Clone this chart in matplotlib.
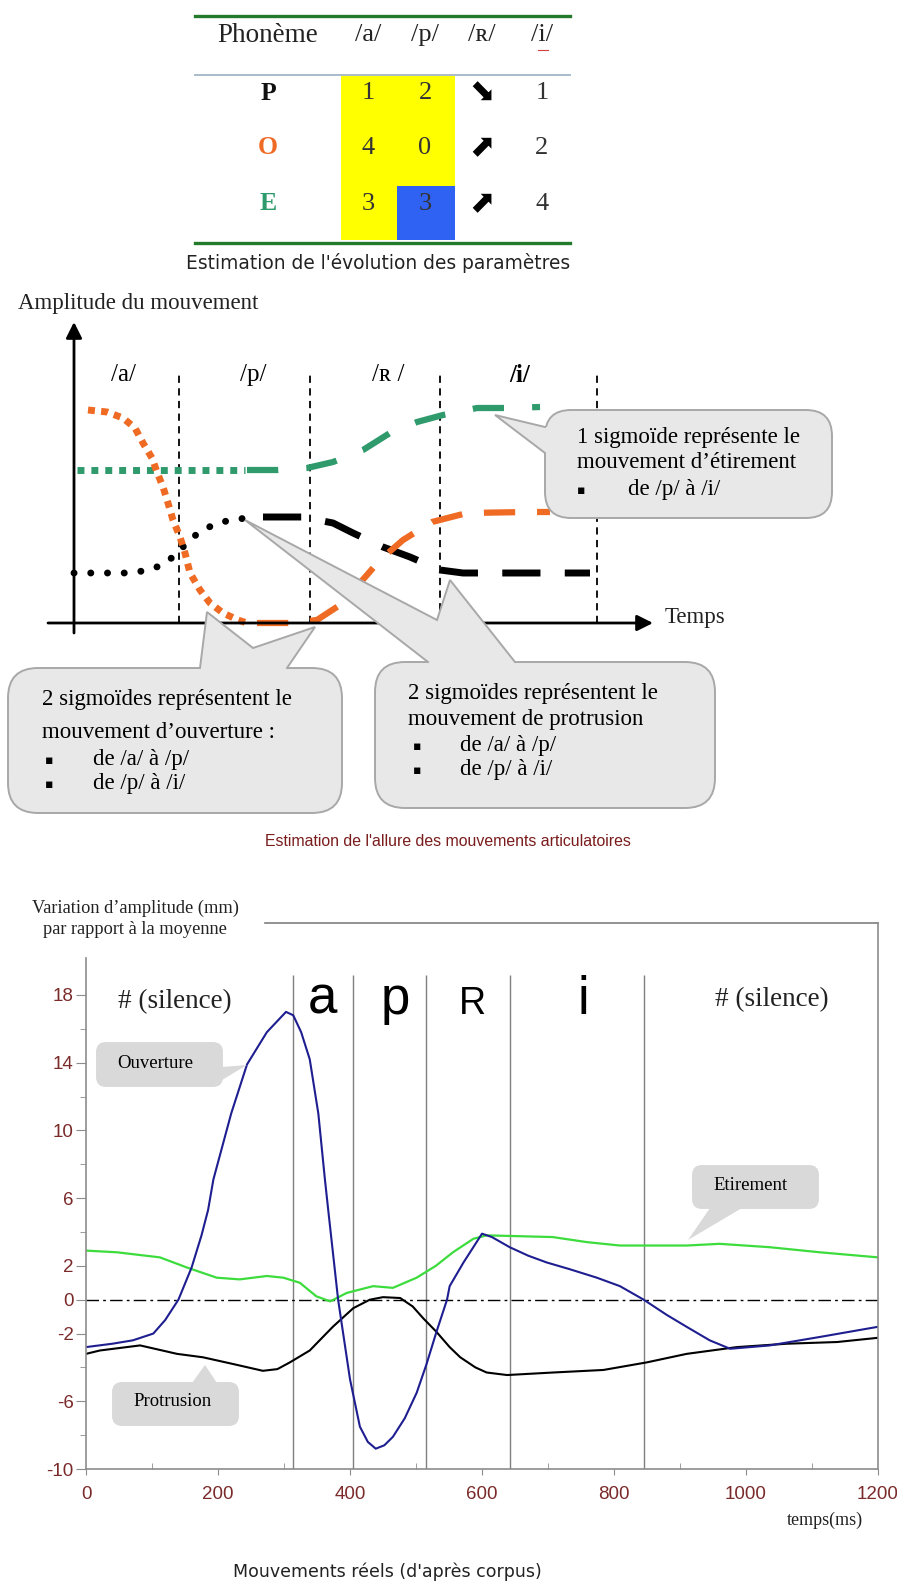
import matplotlib
matplotlib.use("Agg")
import matplotlib.pyplot as plt
from matplotlib.patches import FancyBboxPatch, Polygon, Rectangle

W, H = 897, 1589
SERIF = ["Liberation Serif", "DejaVu Serif"]
SANS = ["Liberation Sans", "DejaVu Sans"]
DEJAVU = ["DejaVu Sans"]
plt.rcParams["font.family"] = SANS
plt.rcParams["axes.unicode_minus"] = False

ORANGE = "#ef6a22"
TEAL = "#2f9a6c"
MAROON = "#7b2a2a"

# --- table: estimation de l'évolution des paramètres
table_phonemes = ["/a/", "/p/", "/ʀ/", "/i/"]
table_params = ["P", "O", "E"]
table_param_colors = ["#111111", ORANGE, TEAL]
table_cells = [["1", "2", "⬊", "1"],
               ["4", "0", "⬈", "2"],
               ["3", "3", "⬈", "4"]]

# --- schematic (time units / amplitude units)
sch_phonemes = ["/a/", "/p/", "/ʀ /", "/i/"]
sch_label_t = [4.9, 17.9, 31.4, 44.6]
sch_bounds = [10.5, 23.6, 36.6, 52.3]
ouv_dot_t = [1.4, 3.3, 4.9, 6.1, 6.9, 7.8, 8.3, 8.9, 9.4, 9.9, 10.6, 11.1, 11.6, 12.6, 13.6, 14.9, 16.4, 17.3]
ouv_dot_a = [21.3, 21.1, 20.5, 19.5, 18.0, 16.5, 15.1, 13.6, 12.0, 10.3, 8.6, 7.0, 5.0, 3.3, 2.0, 1.0, 0.3, 0.0]
ouv_dash_t = [18.3, 21.6, 24.3, 26.9, 28.6, 30.6, 32.9, 35.8, 39.3, 45.3, 47.6]
ouv_dash_a = [0.0, 0.0, 0.3, 2.0, 4.0, 6.3, 8.3, 10.1, 11.0, 11.1, 11.1]
eti_dot_t = [0.3, 17.1]
eti_dot_a = [15.3, 15.3]
eti_dash_t = [17.3, 20.4, 23.3, 25.9, 28.9, 31.6, 34.3, 36.9, 40.3, 43.4, 46.6]
eti_dash_a = [15.3, 15.3, 15.5, 16.1, 17.3, 19.0, 20.1, 20.8, 21.5, 21.5, 21.6]
pro_dot_t = [0.0, 5.3, 6.9, 8.6, 9.9, 11.1, 12.4, 13.9, 15.6, 17.3]
pro_dot_a = [5.0, 5.0, 5.2, 5.7, 6.6, 7.8, 9.0, 9.8, 10.3, 10.5]
pro_dash_t = [18.9, 22.8, 25.9, 27.9, 30.9, 33.6, 36.6, 38.9, 51.6]
pro_dash_a = [10.6, 10.6, 10.0, 9.0, 7.6, 6.6, 5.3, 5.0, 5.0]

# --- real movements (ms / mm)
seg_bounds = [314, 405, 515, 642, 845]
seg_labels = ["a", "p", "R", "i"]
seg_label_t = [358, 468, 586, 753]
t_ouv = [0, 40, 71, 102, 120, 140, 160, 175, 185, 193, 220, 244, 274, 303, 314, 326, 339, 352, 362, 367,
         382, 400, 415, 427, 439, 452, 465, 483, 501, 516, 531, 547, 551, 572, 600, 615, 642, 670, 698,
         733, 774, 809, 845, 880, 910, 945, 976, 1036, 1112, 1200]
v_ouv = [-2.8, -2.6, -2.4, -2.0, -1.2, 0.0, 1.9, 3.8, 5.3, 7.1, 11.0, 13.9, 15.8, 17.0, 16.8, 15.8, 14.2, 11.0,
         7.1, 5.3, 0.0, -4.7, -7.5, -8.4, -8.8, -8.6, -8.1, -7.0, -5.5, -3.8, -1.9, 0.0, 0.8, 2.2, 3.9, 3.7,
         3.1, 2.6, 2.2, 1.8, 1.3, 0.8, 0.0, -0.9, -1.6, -2.4, -2.9, -2.7, -2.2, -1.6]
t_eti = [0, 47, 112, 153, 198, 233, 274, 299, 324, 349, 370, 395, 435, 465, 501, 530, 556, 587, 607, 707,
         759, 809, 910, 960, 1036, 1112, 1200]
v_eti = [2.9, 2.8, 2.5, 1.9, 1.3, 1.2, 1.4, 1.3, 1.0, 0.2, -0.1, 0.4, 0.8, 0.7, 1.3, 2.0, 2.8, 3.6, 3.8, 3.7,
         3.4, 3.2, 3.2, 3.3, 3.1, 2.8, 2.5]
t_pro = [0, 21, 82, 138, 177, 223, 268, 290, 309, 339, 374, 405, 430, 450, 476, 495, 511, 531, 551, 567,
         590, 607, 638, 708, 784, 850, 910, 986, 1062, 1138, 1200]
v_pro = [-3.2, -3.0, -2.7, -3.2, -3.4, -3.8, -4.2, -4.1, -3.7, -3.0, -1.6, -0.5, 0.0, 0.15, 0.1, -0.4, -1.1,
         -1.9, -2.8, -3.4, -4.0, -4.3, -4.45, -4.3, -4.15, -3.7, -3.2, -2.8, -2.6, -2.5, -2.25]
y_major = [-10, -6, -2, 0, 2, 6, 10, 14, 18]
y_minor = [-8, -4, 4, 8, 12, 16]

fig = plt.figure(figsize=(W / 100, H / 100), dpi=100)


def px_axes(x0, y0, x1, y1):
    return fig.add_axes([x0 / W, 1 - y1 / H, (x1 - x0) / W, (y1 - y0) / H])


def callout(ax, box, verts, inward, radius, face, edge=None, lw=1.4):
    x0, y0, x1, y1 = box
    ax.add_patch(FancyBboxPatch((x0, y0), x1 - x0, y1 - y0,
                                boxstyle=f"round,pad=0,rounding_size={radius}",
                                fc=face, ec=edge or face, lw=lw, zorder=5))
    dx, dy = inward
    first, last = verts[0], verts[-1]
    fill = [(first[0] + dx, first[1] + dy)] + list(verts) + [(last[0] + dx, last[1] + dy)]
    ax.add_patch(Polygon(fill, closed=True, fc=face, ec="none", zorder=6))
    if edge:
        xs, ys = zip(*verts)
        ax.plot(xs, ys, color=edge, lw=lw, zorder=7, solid_joinstyle="miter")


# ---------------- schematic ----------------
sch = px_axes(20, 300, 680, 650)
sch.set_xlim(-5.4, 60.6)
sch.set_ylim(-2.7, 32.3)
sch.axis("off")
arrow = dict(arrowstyle="-|>", lw=2, color="black", mutation_scale=24, shrinkA=0, shrinkB=0)
sch.annotate("", xy=(0, 30.1), xytext=(0, -1.0), arrowprops=arrow)
sch.annotate("", xy=(57.9, 0), xytext=(-2.6, 0), arrowprops=arrow)
sch.vlines(sch_bounds, 0, 25.1, colors="black", linestyles=(0, (4, 3)), lw=1.3)
for name, t in zip(sch_phonemes, sch_label_t):
    sch.text(t, 24.8, name, family=SERIF, fontsize=18, ha="center", va="center",
             fontweight="bold" if name == "/i/" else "normal")

sch.plot(eti_dot_t, eti_dot_a, color=TEAL, lw=5, linestyle=(0, (1, 1)), dash_capstyle="butt")
sch.plot(eti_dash_t, eti_dash_a, color=TEAL, lw=4.5, linestyle=(0, (5, 4.5)), dash_capstyle="butt")
sch.plot(pro_dot_t, pro_dot_a, color="black", lw=5, linestyle=(0, (0.01, 2.4)), dash_capstyle="round")
sch.plot(pro_dash_t, pro_dash_a, color="black", lw=5, linestyle=(0, (5.5, 3.5)), dash_capstyle="butt")
sch.plot(ouv_dot_t, ouv_dot_a, color=ORANGE, lw=5, linestyle=(0, (1, 0.9)), dash_capstyle="butt")
sch.plot(ouv_dash_t, ouv_dash_a, color=ORANGE, lw=4.5, linestyle=(0, (5, 3.5)), dash_capstyle="butt")

# ---------------- real movements ----------------
ax = px_axes(86, 923, 878, 1469)
ax.set_xlim(0, 1200)
ax.set_ylim(-10, 22.25)
ax.vlines(seg_bounds, -10, 19.2, colors="#7f7f7f", lw=1.0)
ax.plot([0, 1200], [0, 0], color="black", lw=1.0, linestyle=(0, (9, 3, 2, 3)))
ax.plot(t_eti, v_eti, color="#3ddc3d", lw=1.6)
ax.plot(t_pro, v_pro, color="black", lw=1.5)
ax.plot(t_ouv, v_ouv, color="#1e1e90", lw=1.5)
ax.plot([271, 1200], [22.25, 22.25], color="#7f7f7f", lw=1.2, clip_on=False)
for side in ("left", "right", "bottom"):
    ax.spines[side].set_color("#8c8c8c")
    ax.spines[side].set_linewidth(1.2)
ax.spines["top"].set_visible(False)
ax.spines["left"].set_bounds(-10, 20.2)
ax.set_xticks(range(0, 1201, 200))
ax.set_xticks(range(100, 1200, 200), minor=True)
ax.set_yticks(y_major)
ax.set_yticks(y_minor, minor=True)
ax.tick_params(axis="both", which="both", color="#8c8c8c", labelcolor=MAROON, labelsize=13.5)
ax.tick_params(axis="y", which="major", length=7, pad=2)
ax.tick_params(axis="y", which="minor", length=4.5)
ax.tick_params(axis="x", which="major", length=4, pad=8)
ax.tick_params(axis="x", which="minor", length=4, direction="in")
for lab, t in zip(seg_labels, seg_label_t):
    ax.text(t, 16.9, lab, fontsize=27 if lab == "R" else 38, ha="center", va="baseline", color="black")
ax.text(135, 17.6, "# (silence)", family=SERIF, fontsize=19.5, ha="center", va="center", color="#222222")
ax.text(1039, 17.7, "# (silence)", family=SERIF, fontsize=19.5, ha="center", va="center", color="#222222")

# ---------------- overlay (table, captions, callouts) ----------------
ov = fig.add_axes([0, 0, 1, 1])
ov.set_xlim(0, W)
ov.set_ylim(H, 0)
ov.axis("off")
ov.set_zorder(10)

# table
col_x = [368, 425, 482, 542]
row_y = [93, 148, 204]
ov.add_patch(Rectangle((341, 75), 114, 165, fc="#ffff00", ec="none", zorder=1))
ov.add_patch(Rectangle((397, 186), 58, 54, fc="#2f62f2", ec="none", zorder=2))
ov.plot([195, 570], [16, 16], color="#237a2b", lw=2.4)
ov.plot([195, 570], [75, 75], color="#a9bccb", lw=1.4)
ov.plot([195, 570], [243, 243], color="#237a2b", lw=2.4)
ov.text(268, 35, "Phonème", family=SERIF, fontsize=19.5, ha="center", va="center", color="#222222")
for name, x in zip(table_phonemes, col_x):
    ov.text(x, 35, name, family=SERIF, fontsize=19, ha="center", va="center", color="#222222")
ov.plot([538, 548], [50, 50], color="#d04040", lw=0.8)
for name, color, cells, y in zip(table_params, table_param_colors, table_cells, row_y):
    ov.text(268, y, name, family=SERIF, fontsize=18.5, fontweight="bold", ha="center", va="center", color=color)
    for cell, x in zip(cells, col_x):
        if cell in ("⬊", "⬈"):
            ov.text(x, y, cell, family=DEJAVU, fontsize=22, ha="center", va="center",
                    color="black", zorder=3)
        else:
            ov.text(x, y, cell, family=SERIF, fontsize=19, ha="center", va="center", color="#333333", zorder=3)
ov.text(378, 263, "Estimation de l'évolution des paramètres", family=DEJAVU, fontsize=13.4,
        ha="center", va="center", color="#222222")

# schematic labels
ov.text(18, 303, "Amplitude du mouvement", family=SERIF, fontsize=16.5, ha="left", va="center", color="#222222")
ov.text(665, 617, "Temps", family=SERIF, fontsize=16.5, ha="left", va="center", color="#222222")

GREY = "#e8e8e8"
EDGE = "#a8a8a8"
CS = 16.5
callout(ov, (545, 410, 832, 518), [(545, 427), (495, 415), (545, 453)], (10, 0), 26, GREY, EDGE)
ov.text(577, 437, "1 sigmoïde représente le", family=SERIF, fontsize=CS, va="center", zorder=8)
ov.text(577, 463, "mouvement d’étirement", family=SERIF, fontsize=CS, va="center", zorder=8)
ov.text(577, 490, "▪", family=DEJAVU, fontsize=9, va="center", zorder=8)
ov.text(628, 490, "de /p/ à /i/", family=SERIF, fontsize=CS, va="center", zorder=8)

callout(ov, (8, 668, 342, 813), [(200, 668), (207, 612), (253, 648), (315, 627), (287, 668)], (0, 10), 30,
        GREY, EDGE)
ov.text(42, 700, "2 sigmoïdes représentent le", family=SERIF, fontsize=CS, va="center", zorder=8)
ov.text(42, 732, "mouvement d’ouverture :", family=SERIF, fontsize=CS, va="center", zorder=8)
ov.text(45, 760, "▪", family=DEJAVU, fontsize=9, va="center", zorder=8)
ov.text(93, 760, "de /a/ à /p/", family=SERIF, fontsize=CS, va="center", zorder=8)
ov.text(45, 784, "▪", family=DEJAVU, fontsize=9, va="center", zorder=8)
ov.text(93, 784, "de /p/ à /i/", family=SERIF, fontsize=CS, va="center", zorder=8)

callout(ov, (375, 662, 715, 808), [(428, 662), (245, 520), (437, 620), (450, 580), (515, 662)], (0, 10), 30,
        GREY, EDGE)
ov.text(408, 693, "2 sigmoïdes représentent le", family=SERIF, fontsize=CS, va="center", zorder=8)
ov.text(408, 720, "mouvement de protrusion", family=SERIF, fontsize=CS, va="center", zorder=8)
ov.text(413, 746, "▪", family=DEJAVU, fontsize=9, va="center", zorder=8)
ov.text(460, 746, "de /a/ à /p/", family=SERIF, fontsize=CS, va="center", zorder=8)
ov.text(413, 770, "▪", family=DEJAVU, fontsize=9, va="center", zorder=8)
ov.text(460, 770, "de /p/ à /i/", family=SERIF, fontsize=CS, va="center", zorder=8)

ov.text(448, 842, "Estimation de l'allure des mouvements articulatoires", fontsize=11.4, ha="center",
        va="center", color="#7a1c1c")

# real-movement labels and callouts
ov.text(135, 908, "Variation d’amplitude (mm)", family=SERIF, fontsize=13.2, ha="center", va="center",
        color="#222222")
ov.text(135, 929, "par rapport à la moyenne", family=SERIF, fontsize=13.2, ha="center", va="center",
        color="#222222")
BUB = "#d9d9d9"
callout(ov, (97, 1043, 222, 1086), [(222, 1067), (247, 1065), (222, 1080)], (-8, 0), 9, BUB)
ov.text(117, 1063, "Ouverture", family=SERIF, fontsize=13.5, va="center", zorder=8)
callout(ov, (693, 1166, 818, 1208), [(710, 1208), (688, 1240), (742, 1208)], (0, -8), 9, BUB)
ov.text(713, 1185, "Etirement", family=SERIF, fontsize=13.5, va="center", zorder=8)
callout(ov, (113, 1383, 238, 1425), [(192, 1383), (205, 1365), (217, 1383)], (0, 8), 9, BUB)
ov.text(133, 1402, "Protrusion", family=SERIF, fontsize=13.5, va="center", zorder=8)
ov.text(825, 1520, "temps(ms)", family=SERIF, fontsize=13, ha="center", va="center", color="#222222")

ov.text(387, 1572, "Mouvements réels (d'après corpus)", family=DEJAVU, fontsize=12.5, ha="center",
        va="center", color="#222222")

fig.savefig("out.png", dpi=100)
